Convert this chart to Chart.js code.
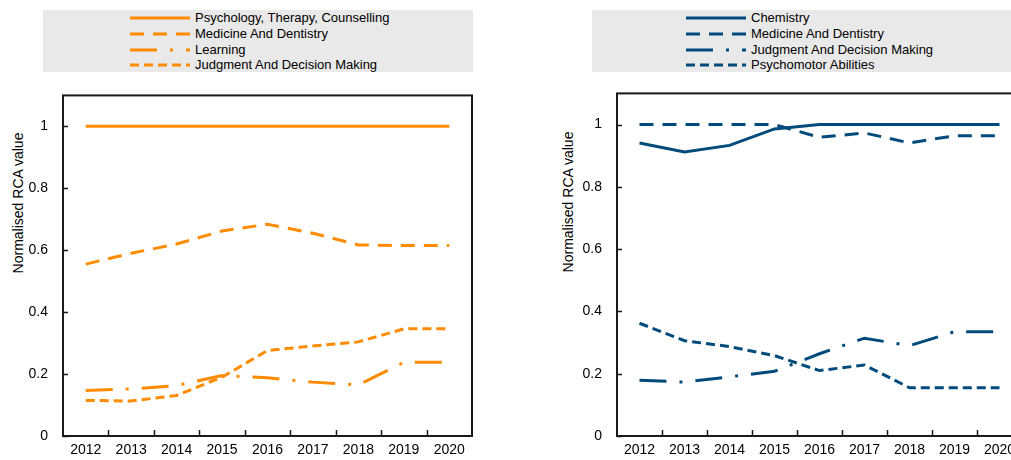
<!DOCTYPE html>
<html>
<head>
<meta charset="utf-8">
<script src="https://cdn.jsdelivr.net/npm/chart.js@4.4.1/dist/chart.umd.min.js"></script>
<style>
  html, body { margin:0; padding:0; background:#fff; }
  body { width:1011px; height:460px; overflow:hidden; position:relative; font-family:'Liberation Sans',Arial,sans-serif; }
  .legend { position:absolute; top:10px; height:62px; background:#e9e9e9; }
  .row { position:absolute; height:16px; line-height:16px; font-size:13px; color:#000; white-space:nowrap; }
  .row svg { position:absolute; top:5px; }
  .row span { position:absolute; top:0; }
  .ytitle { position:absolute; font-family:'Liberation Sans',Arial,sans-serif; font-size:14px; color:#000; white-space:nowrap; transform:translate(-50%,-50%) rotate(-90deg); }
  .wrap { position:absolute; }
</style>
</head>
<body>
<div class="legend" id="legL" style="left:43px; width:430px;"></div>
<div class="legend" id="legR" style="left:592px; width:440px;"></div>
<div class="ytitle" style="left:18px; top:203px;">Normalised RCA value</div>
<div class="ytitle" style="left:568px; top:202px;">Normalised RCA value</div>
<div class="wrap" style="left:0px; top:72px; width:480px; height:388px;"><canvas id="cL" width="480" height="388"></canvas></div>
<div class="wrap" style="left:555px; top:70px; width:470px; height:390px;"><canvas id="cR" width="470" height="390"></canvas></div>
<script>
// ---- Data ----
const years = ['2012','2013','2014','2015','2016','2017','2018','2019','2020'];
const yTickValues = [0, 0.2, 0.4, 0.6, 0.8, 1];

const leftLabels = ['Psychology, Therapy, Counselling','Medicine And Dentistry','Learning','Judgment And Decision Making'];
const leftPsychology = [1, 1, 1, 1, 1, 1, 1, 1, 1];
const leftMedicine   = [0.555, 0.59, 0.62, 0.662, 0.684, 0.655, 0.617, 0.615, 0.615];
const leftLearning   = [0.147, 0.152, 0.163, 0.195, 0.188, 0.174, 0.165, 0.238, 0.238];
const leftJudgment   = [0.115, 0.113, 0.131, 0.19, 0.276, 0.291, 0.304, 0.346, 0.346];

const rightLabels = ['Chemistry','Medicine And Dentistry','Judgment And Decision Making','Psychomotor Abilities'];
const rightChemistry   = [0.941, 0.912, 0.933, 0.986, 1, 1, 1, 1, 1];
const rightMedicine    = [1, 1, 1, 1, 0.959, 0.973, 0.941, 0.964, 0.964];
const rightJudgment    = [0.179, 0.173, 0.19, 0.208, 0.264, 0.314, 0.29, 0.335, 0.335];
const rightPsychomotor = [0.362, 0.306, 0.287, 0.258, 0.21, 0.228, 0.155, 0.155, 0.155];

// ---- Styles ----
const ORANGE = '#ff8c00';
const BLUE = '#004b7c';
const DASHES = [[], [14, 9], [27, 13, 3, 13], [9, 5]];

Chart.defaults.font.family = "'Liberation Sans',Arial,sans-serif";
Chart.defaults.color = '#000';

function buildLegend(id, labels, color, sampleLeft, textLeft) {
  const el = document.getElementById(id);
  const centers = [8.3, 24, 39.6, 55.3];
  labels.forEach((lab, i) => {
    const row = document.createElement('div');
    row.className = 'row';
    row.style.top = (centers[i] - 8) + 'px';
    row.style.left = '0px';
    row.style.width = '100%';
    const dash = DASHES[i].length ? DASHES[i].join(' ') : 'none';
    row.innerHTML = '<svg width="60" height="6" style="left:' + sampleLeft + 'px"><line x1="0" y1="3" x2="60" y2="3" stroke="' + color + '" stroke-width="3" stroke-dasharray="' + dash + '"/></svg>' +
      '<span style="left:' + textLeft + 'px">' + lab + '</span>';
    el.appendChild(row);
  });
}
buildLegend('legL', leftLabels, ORANGE, 87, 152);
buildLegend('legR', rightLabels, BLUE, 94, 159);

const frame = {
  id: 'frame',
  afterDatasetsDraw(chart) {
    const ctx = chart.ctx;
    const a = chart.chartArea;
    const xs = chart.scales.x, ys = chart.scales.y;
    ctx.save();
    ctx.strokeStyle = '#1a1a1a';
    ctx.lineWidth = 2;
    ctx.strokeRect(a.left, a.top, a.right - a.left, a.bottom - a.top);
    ctx.lineWidth = 1.5;
    ctx.beginPath();
    yTickValues.forEach(v => {
      const y = Math.round(ys.getPixelForValue(v)) + 0.5;
      ctx.moveTo(a.left, y); ctx.lineTo(a.left + 5, y);
    });
    for (let i = 1; i < years.length; i++) {
      const x = Math.round((xs.getPixelForValue(i - 1) + xs.getPixelForValue(i)) / 2) + 0.5;
      ctx.moveTo(x, a.bottom); ctx.lineTo(x, a.bottom - 6);
    }
    ctx.stroke();
    ctx.restore();
  }
};

function makeChart(id, labels, series, color, yWidth, padTop, padRight) {
  return new Chart(document.getElementById(id), {
    type: 'line',
    data: {
      labels: years,
      datasets: series.map((s, i) => ({
        label: labels[i],
        data: s,
        borderColor: color,
        backgroundColor: color,
        borderWidth: 3,
        borderDash: DASHES[i],
        pointRadius: 0,
        tension: 0,
        fill: false
      }))
    },
    options: {
      responsive: false,
      animation: false,
      devicePixelRatio: 1,
      layout: { padding: { left: 0, top: padTop, right: padRight, bottom: 0 } },
      plugins: { legend: { display: false }, tooltip: { enabled: false } },
      scales: {
        x: {
          type: 'category',
          offset: true,
          grid: { display: false, drawTicks: false },
          border: { display: false },
          ticks: { font: { size: 14 }, color: '#000', padding: 6, maxRotation: 0, autoSkip: false },
          afterFit: s => { s.height = 24; }
        },
        y: {
          min: 0, max: 1.1,
          grid: { display: false, drawTicks: false },
          border: { display: false },
          afterBuildTicks: s => { s.ticks = yTickValues.map(v => ({ value: v })); },
          ticks: { font: { size: 14 }, color: '#000', padding: 15, callback: v => String(Math.round(v * 10) / 10) },
          afterFit: s => { s.width = yWidth; }
        }
      }
    },
    plugins: [frame]
  });
}

makeChart('cL', leftLabels, [leftPsychology, leftMedicine, leftLearning, leftJudgment], ORANGE, 63, 4, 8);
makeChart('cR', rightLabels, [rightChemistry, rightMedicine, rightJudgment, rightPsychomotor], BLUE, 62, 2, 3);
</script>
</body>
</html>
